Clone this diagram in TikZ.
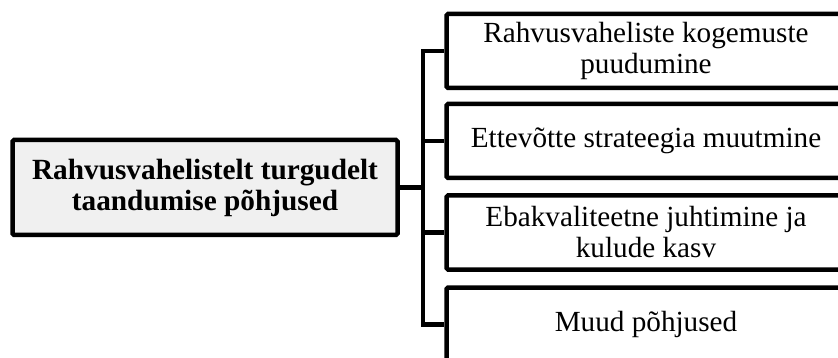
\documentclass[tikz,border=0pt]{standalone}
\usepackage{fontspec}
\setmainfont{Liberation Serif}
\begin{document}
\begin{tikzpicture}[x=1pt,y=-1pt,
  boxline/.style={line width=4.5pt, draw=black, rounded corners=1.5pt},
  rootbox/.style={boxline, fill=black!6, minimum width=385pt, minimum height=95pt,
    align=center, inner sep=0pt, font=\fontsize{29.3}{31}\selectfont\bfseries},
  leafbox/.style={boxline, fill=white, minimum width=399pt, minimum height=74pt,
    align=center, inner sep=0pt, font=\fontsize{29.2}{31}\selectfont},
  wire/.style={line width=4.5pt, line join=miter}]
  \useasboundingbox (0,0) rectangle (838,358);
  \begin{scope}
    \clip (0,0) rectangle (838,358);
    % root of the tree
    \node[rootbox] (root) at (205,187.5) {Rahvusvahelistelt turgudelt\\taandumise põhjused};
    % the four reasons
    \node[leafbox] (r1) at (646,51) {Rahvusvaheliste kogemuste\\puudumine};
    \node[leafbox] (r2) at (646,141) {Ettevõtte strateegia muutmine};
    \node[leafbox] (r3) at (646,232.5) {Ebakvaliteetne juhtimine ja\\kulude kasv};
    \node[leafbox] (r4) at (646,324.5) {Muud põhjused};
    % branching connectors
    \coordinate (hub) at (423,187.5);
    \draw[wire] (root.east) -- (hub);
    \foreach \n in {r1,r2,r3,r4}
      \draw[wire] (hub) |- (\n.west);
  \end{scope}
\end{tikzpicture}
\end{document}
